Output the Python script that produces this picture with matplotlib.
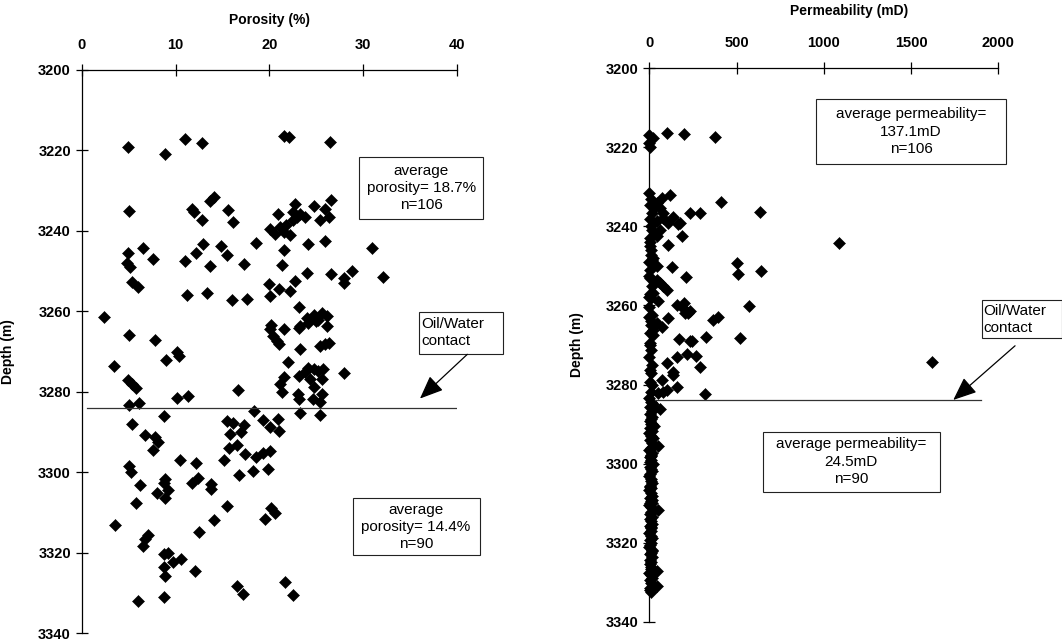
import matplotlib
matplotlib.use("Agg")
import matplotlib.pyplot as plt
from matplotlib.patches import Rectangle

plt.rcParams['font.family'] = ['Liberation Sans', 'DejaVu Sans']

# ---- porosity data (%, depth m) ----
por_above = [4.9, 8.9, 11.0, 12.8, 21.6, 22.1, 26.5, 5.0, 11.7, 12.0, 12.8, 13.7, 14.1, 15.6, 16.1, 20.9,
             23.8, 24.7, 25.9, 26.6, 26.4, 25.4, 20.1, 20.6, 21.1, 21.5, 22.2, 21.8, 22.5, 22.9, 22.7, 22.5,
             23.3, 18.6, 21.5, 24.1, 25.9, 30.9, 4.9, 4.8, 5.1, 6.5, 7.6, 11.0, 12.2, 12.9, 13.7, 14.8,
             15.5, 17.3, 21.3, 24.0, 26.6, 27.9, 28.8, 32.1, 5.3, 6.0, 19.9, 21.0, 22.2, 22.7, 11.2, 13.3,
             16.0, 17.6, 20.1, 27.9, 2.3, 5.0, 7.8, 9.0, 10.1, 10.3, 3.4, 4.9, 5.3, 5.8, 5.0, 6.1,
             10.1, 11.3, 16.6, 23.1, 20.2, 20.1, 20.4, 20.8, 21.0, 21.5, 23.1, 24.0, 24.7, 25.2, 25.6, 26.1,
             24.1, 25.0, 26.1, 23.3, 23.3, 25.4, 25.9, 26.3, 22.0, 21.5, 21.1, 21.3, 23.1, 23.8, 24.1, 24.7,
             25.2, 25.7, 24.3, 25.6, 24.7, 25.6, 25.4, 24.6, 23.0, 23.2, 27.9]
dep_above = [3219.2, 3220.8, 3217.2, 3218.1, 3216.4, 3216.7, 3217.9, 3235.1, 3234.6, 3235.3, 3237.4, 3232.5,
             3231.7, 3234.8, 3237.8, 3235.8, 3236.6, 3233.7, 3234.6, 3232.3, 3236.6, 3237.4, 3239.5, 3240.7,
             3239.1, 3240.3, 3241.1, 3238.6, 3237.4, 3236.6, 3233.3, 3235.4, 3235.8, 3243.0, 3244.8, 3243.3,
             3242.5, 3244.2, 3245.6, 3248.1, 3248.9, 3244.3, 3246.9, 3247.4, 3245.5, 3243.3, 3248.8, 3243.8,
             3246.1, 3248.3, 3248.5, 3250.4, 3250.7, 3251.8, 3249.9, 3251.4, 3252.6, 3253.9, 3253.2, 3254.4,
             3254.9, 3252.5, 3255.9, 3255.5, 3257.1, 3256.9, 3256.2, 3253.0, 3261.5, 3266.0, 3267.2, 3272.2,
             3270.1, 3271.1, 3273.7, 3277.2, 3278.1, 3279.1, 3283.2, 3282.8, 3281.6, 3281.1, 3279.6, 3259.0,
             3263.3, 3264.5, 3266.2, 3267.4, 3268.2, 3264.4, 3264.1, 3261.7, 3260.8, 3262.1, 3260.4, 3261.2,
             3262.9, 3262.5, 3263.7, 3263.7, 3269.3, 3268.6, 3268.2, 3268.0, 3272.6, 3276.4, 3278.1, 3280.1,
             3276.0, 3275.2, 3274.0, 3274.4, 3274.8, 3274.4, 3276.8, 3276.8, 3278.9, 3280.5, 3282.6, 3281.8,
             3280.5, 3281.9, 3275.4]

por_below = [23.3, 25.4, 18.3, 19.3, 20.1, 20.9, 21.0, 15.5, 16.1, 17.3, 17.0, 15.8, 15.7, 16.5, 17.4, 18.6,
             19.3, 20.1, 15.2, 5.3, 8.8, 6.7, 7.8, 8.1, 7.6, 10.5, 12.2, 5.0, 5.2, 16.8, 18.2, 19.8,
             8.9, 12.4, 6.2, 5.8, 3.5, 8.0, 8.7, 9.2, 8.9, 11.7, 13.8, 13.8, 15.5, 14.1, 12.5, 19.5,
             20.2, 20.6, 7.0, 6.7, 6.5, 8.7, 9.2, 9.7, 10.6, 8.7, 8.9, 12.1, 16.5, 17.2, 21.7, 22.5,
             6.0, 8.8]
dep_below = [3285.3, 3285.9, 3284.9, 3287.1, 3288.7, 3286.7, 3289.8, 3287.3, 3287.7, 3288.2, 3290.0, 3290.4,
             3294.1, 3293.3, 3295.5, 3296.3, 3295.3, 3294.7, 3297.0, 3288.1, 3286.1, 3290.8, 3291.2, 3292.4,
             3294.5, 3297.1, 3297.8, 3298.5, 3300.0, 3300.8, 3299.8, 3299.3, 3301.6, 3301.4, 3303.3, 3307.6,
             3313.2, 3305.2, 3302.7, 3304.5, 3306.4, 3302.7, 3303.0, 3304.1, 3308.3, 3312.0, 3315.0, 3311.6,
             3308.9, 3310.1, 3315.6, 3316.7, 3318.3, 3320.4, 3320.0, 3322.4, 3321.6, 3323.6, 3325.9, 3324.5,
             3328.2, 3330.2, 3327.2, 3330.5, 3332.1, 3331.0]

# ---- permeability data (mD, depth m) ----
perm_above = [0, 20, 0, 4, 103, 199, 376, 0, 119, 411, 634, 233, 290, 4, 42, 61,
              14, 80, 42, 138, 109, 166, 186, 61, 42, 109, 1089, 501, 507, 640, 128, 210,
              42, 23, 4, 0, 42, 61, 99, 23, 52, 80, 573, 157, 199, 233, 205, 363,
              395, 109, 0, 42, 23, 4, 172, 233, 323, 520, 1618, 157, 214, 268, 290, 99,
              134, 71, 157, 103, 52, 321, 71, 33, 176, 80, 195, 224, 71, 243, 138, 80,
              10, 5, 15, 2, 8, 12, 0, 6, 18, 3, 9, 14, 1, 7, 20, 4,
              11, 0, 16, 5, 9, 2, 13, 7, 0, 10, 4, 15, 6, 1, 12, 3]
dep_perm_above = [3217.0, 3217.7, 3218.8, 3220.0, 3216.4, 3216.7, 3217.5, 3231.6, 3232.0, 3233.9, 3236.4, 3236.6,
                  3236.5, 3234.5, 3234.1, 3235.4, 3236.6, 3237.9, 3238.7, 3237.5, 3239.1, 3239.4, 3242.4, 3240.8,
                  3242.5, 3244.6, 3244.2, 3249.2, 3252.0, 3251.2, 3250.3, 3252.8, 3249.9, 3248.0, 3245.0, 3252.6,
                  3253.5, 3254.3, 3256.0, 3256.9, 3258.9, 3255.2, 3260.2, 3259.8, 3259.4, 3261.5, 3261.9, 3263.7,
                  3262.9, 3263.2, 3260.3, 3264.4, 3266.1, 3266.9, 3268.4, 3269.0, 3267.9, 3268.2, 3274.3, 3273.1,
                  3272.2, 3272.9, 3275.5, 3274.6, 3276.9, 3278.8, 3280.5, 3281.5, 3282.2, 3282.5, 3232.9, 3235.0,
                  3239.2, 3236.7, 3260.7, 3262.0, 3265.4, 3269.0, 3277.6, 3281.8,
                  3233.0, 3238.0, 3241.0, 3243.0, 3246.0, 3247.3, 3249.0, 3251.0, 3255.0, 3257.2, 3258.0, 3262.3,
                  3263.0, 3265.0, 3267.5, 3270.0, 3271.2, 3273.0, 3275.0, 3276.2, 3277.0, 3279.4, 3280.0, 3282.0,
                  3283.3, 3240.0, 3244.0, 3248.5, 3253.0, 3257.8, 3264.0, 3269.5]

perm_below = [8, 22, 5, 61, 14, 3, 18, 9, 2, 12, 25, 6, 15, 1, 10, 20,
              4, 13, 52, 7, 0, 16, 9, 3, 11, 6, 19, 2, 8, 14, 5, 0,
              12, 7, 17, 3, 10, 1, 9, 15, 4, 13, 6, 0, 11, 52, 8, 2,
              16, 5, 10, 14, 3, 7, 12, 0, 9, 18, 4, 11, 6, 1, 13, 8,
              3, 15, 5, 10, 2, 12, 7, 42, 0, 9, 14, 4, 11, 42, 6, 2,
              8, 20, 16, 10, 4, 13, 7, 18, 9]
dep_perm_below = [3284.3, 3284.9, 3285.6, 3286.3, 3286.8, 3287.4, 3288.1, 3288.6, 3289.3, 3289.9, 3290.4, 3291.1,
                  3291.7, 3292.2, 3292.9, 3293.5, 3294.0, 3294.7, 3295.6, 3296.0, 3296.6, 3297.3, 3297.8, 3298.4,
                  3299.1, 3299.6, 3300.2, 3300.9, 3301.4, 3302.0, 3302.7, 3303.2, 3303.8, 3304.5, 3305.0, 3305.6,
                  3306.3, 3306.8, 3307.4, 3308.1, 3308.6, 3309.2, 3309.9, 3310.4, 3311.0, 3311.7, 3312.2, 3312.8,
                  3313.5, 3314.0, 3314.6, 3315.3, 3315.8, 3316.4, 3317.1, 3317.6, 3318.2, 3318.9, 3319.4, 3320.0,
                  3320.7, 3321.2, 3321.8, 3322.5, 3323.0, 3323.6, 3324.3, 3324.8, 3325.4, 3326.1, 3326.6, 3327.1,
                  3327.7, 3328.3, 3328.9, 3329.5, 3330.1, 3330.9, 3331.4, 3332.0, 3332.6, 3286.0, 3290.0, 3298.0,
                  3306.0, 3310.0, 3316.0, 3322.0, 3309.5]

owc_depth_por = 3284.0
owc_depth_perm = 3283.8
depth_ticks = [3200, 3220, 3240, 3260, 3280, 3300, 3320, 3340]
por_ticks = [0, 10, 20, 30, 40]
perm_ticks = [0, 500, 1000, 1500, 2000]


def style_axis(ax, xticks, xlabel):
    for s in ['right', 'bottom']:
        ax.spines[s].set_visible(False)
    for s in ['left', 'top']:
        ax.spines[s].set_linewidth(0.9)
    ax.set_ylim(3340, 3200)
    ax.set_yticks(depth_ticks)
    ax.set_xticks(xticks)
    ax.xaxis.tick_top()
    ax.xaxis.set_label_position('top')
    ax.tick_params(axis='x', direction='inout', length=8, width=0.9, pad=9, labelsize=10.5)
    ax.tick_params(axis='y', direction='inout', length=8, width=0.9, pad=4, labelsize=10.5)
    for lbl in ax.get_xticklabels() + ax.get_yticklabels():
        lbl.set_fontweight('bold')
    ax.set_xlabel(xlabel, fontsize=10, fontweight='bold')
    ax.set_ylabel('Depth (m)', fontsize=10, fontweight='bold')


def box(ax, x0, x1, y0, y1, text, tx, ty, ha='center'):
    ax.add_patch(Rectangle((x0, y0), x1 - x0, y1 - y0, fill=False, edgecolor='#222222',
                           linewidth=0.8, clip_on=False))
    ax.text(tx, ty, text, ha=ha, va='center', fontsize=11, linespacing=1.3, clip_on=False)


def arrow(ax, tail, tip):
    ax.annotate('', xy=tip, xytext=tail, annotation_clip=False,
                arrowprops=dict(arrowstyle='-|>,head_length=0.6,head_width=0.25', mutation_scale=24,
                                lw=0.9, color='black', shrinkA=0, shrinkB=0))


fig = plt.figure(figsize=(10.62, 6.43), dpi=100)

# porosity panel
ax1 = fig.add_axes([0.07721, 0.01555, 0.35311, 0.87559])
ax1.set_xlim(0, 40)
ax1.plot(por_above + por_below, dep_above + dep_below, 'D', color='black', ms=6.5, mew=0.4, clip_on=False)
ax1.plot([0.5, 40.2], [owc_depth_por, owc_depth_por], color='#333333', lw=0.9)
style_axis(ax1, por_ticks, 'Porosity (%)')
ax1.xaxis.set_label_coords(0.5, 1.082)
ax1.yaxis.set_label_coords(-0.179, 0.5)
box(ax1, 29.6, 42.8, 3221.6, 3237.1, 'average\nporosity= 18.7%\nn=106', 36.2, 3229.3)
box(ax1, 36.0, 44.9, 3260.1, 3270.5, 'Oil/Water\ncontact', 36.2, 3265.3, ha='left')
box(ax1, 28.9, 42.4, 3306.5, 3320.7, 'average\nporosity= 14.4%\nn=90', 35.6, 3313.6)
arrow(ax1, (41.1, 3270.7), (36.05, 3281.7))

# permeability panel
ax2 = fig.add_axes([0.61139, 0.03313, 0.32863, 0.86065])
ax2.set_xlim(0, 2000)
ax2.plot(perm_above + perm_below, dep_perm_above + dep_perm_below, 'D', color='black', ms=6.5, mew=0.4,
         clip_on=False)
ax2.plot([32, 1901], [owc_depth_perm, owc_depth_perm], color='#333333', lw=0.9)
style_axis(ax2, perm_ticks, 'Permeability (mD)')
ax2.xaxis.set_label_coords(0.572, 1.096)
ax2.yaxis.set_label_coords(-0.187, 0.5)
box(ax2, 955, 2044, 3207.8, 3224.2, 'average permeability=\n137.1mD\nn=106', 1500, 3216)
box(ax2, 1905, 2363, 3258.6, 3268.3, 'Oil/Water\ncontact', 1914, 3263.5, ha='left')
box(ax2, 650, 1666, 3291.9, 3307.1, 'average permeability=\n24.5mD\nn=90', 1158, 3299.5)
arrow(ax2, (2096, 3270.2), (1742, 3283.9))

fig.savefig('out.png', dpi=100)
